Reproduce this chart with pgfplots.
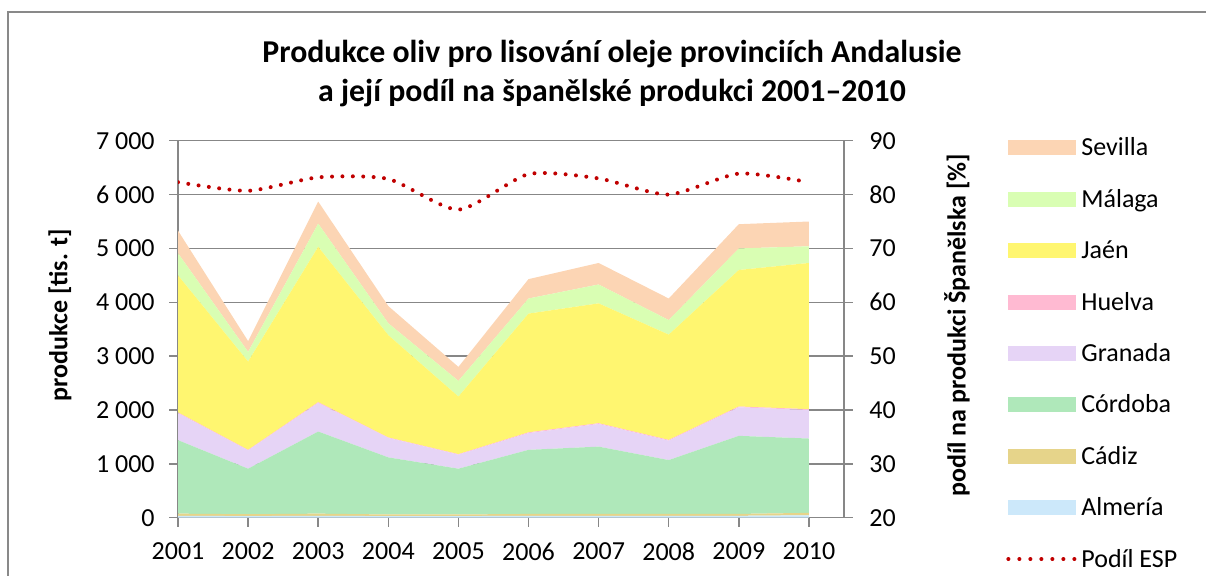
\documentclass[border=0pt]{standalone}
\usepackage{fontspec}
\setmainfont{Carlito}
\usepackage{pgfplots}
\pgfplotsset{compat=1.18}
\definecolor{sevilla}{HTML}{FCD5B4}
\definecolor{malaga}{HTML}{D9FEB3}
\definecolor{jaen}{HTML}{FFF670}
\definecolor{huelva}{HTML}{FFBAD2}
\definecolor{granada}{HTML}{E6D4F6}
\definecolor{cordoba}{HTML}{AFE8BA}
\definecolor{cadiz}{HTML}{E6D48A}
\definecolor{almeria}{HTML}{CCE8FA}
\definecolor{espred}{HTML}{C00000}
\definecolor{axisgray}{HTML}{878787}
\definecolor{bordergray}{HTML}{898989}
\begin{document}
\begin{tikzpicture}[x=1pt,y=1pt]
\path[use as bounding box] (0,0) rectangle (603,287.5);
\begin{scope}
\clip (0,0) rectangle (603,287.5);
\draw[color=bordergray, line width=0.6pt] (4,-20) rectangle (640,281.5);
\end{scope}
\node[anchor=base, font=\fontsize{15.9}{18}\selectfont\bfseries] at (306,256.5) {Produkce oliv pro lisování oleje provinciích Andalusie};
\node[anchor=base, font=\fontsize{15.9}{18}\selectfont\bfseries] at (306,237) {a její podíl na španělské produkci 2001–2010};
\node[rotate=90, font=\fontsize{13}{15}\selectfont\bfseries] at (30,130) {produkce [tis. t]};
\node[rotate=90, font=\fontsize{13}{15}\selectfont\bfseries] at (478.5,124.75) {podíl na produkci Španělska [\%]};
\begin{axis}[
  at={(89pt,28.65pt)}, anchor=south west, scale only axis,
  width=333pt, height=188.5pt,
  xmin=2001, xmax=2010.5, ymin=0, ymax=7000,
  stack plots=y,
  axis x line*=bottom, axis y line*=left,
  axis line style={-, draw=axisgray, line width=0.75pt},
  xtick={2001,2002,2003,2004,2005,2006,2007,2008,2009,2010},
  xticklabels={2001,2002,2003,2004,2005,2006,2007,2008,2009,2010},
  ytick={0,1000,2000,3000,4000,5000,6000,7000},
  ymajorgrids, grid style={axisgray, line width=0.75pt},
  tick align=outside, major tick length=4.5pt,
  tick style={axisgray, line width=0.75pt},
  ticklabel style={font=\fontsize{13}{15}\selectfont},
  /pgf/number format/assume math mode=true,
  /pgf/number format/fixed,
  /pgf/number format/1000 sep={\ },
  scaled y ticks=false,
  yticklabel style={anchor=east, inner sep=0pt, xshift=-7pt},
  xticklabel style={anchor=north, inner sep=0pt, yshift=-8pt},
]
\addplot[fill=almeria, draw=none] coordinates {(2001,35) (2002,30) (2003,35) (2004,30) (2005,30) (2006,35) (2007,35) (2008,35) (2009,35) (2010,45)} \closedcycle;
\addplot[fill=cadiz, draw=none] coordinates {(2001,40) (2002,35) (2003,40) (2004,30) (2005,30) (2006,35) (2007,35) (2008,35) (2009,35) (2010,45)} \closedcycle;
\addplot[fill=cordoba, draw=none] coordinates {(2001,1365) (2002,845) (2003,1525) (2004,1060) (2005,850) (2006,1190) (2007,1250) (2008,1000) (2009,1450) (2010,1380)} \closedcycle;
\addplot[fill=granada, draw=none] coordinates {(2001,500) (2002,340) (2003,530) (2004,360) (2005,260) (2006,310) (2007,420) (2008,360) (2009,530) (2010,530)} \closedcycle;
\addplot[fill=huelva, draw=none] coordinates {(2001,15) (2002,10) (2003,15) (2004,10) (2005,10) (2006,15) (2007,15) (2008,15) (2009,15) (2010,15)} \closedcycle;
\addplot[fill=jaen, draw=none] coordinates {(2001,2545) (2002,1640) (2003,2885) (2004,1900) (2005,1070) (2006,2205) (2007,2225) (2008,1955) (2009,2535) (2010,2715)} \closedcycle;
\addplot[fill=malaga, draw=none] coordinates {(2001,410) (2002,180) (2003,430) (2004,220) (2005,290) (2006,280) (2007,350) (2008,270) (2009,400) (2010,310)} \closedcycle;
\addplot[fill=sevilla, draw=none] coordinates {(2001,420) (2002,200) (2003,410) (2004,320) (2005,260) (2006,360) (2007,400) (2008,400) (2009,450) (2010,460)} \closedcycle;
\end{axis}
\begin{axis}[
  at={(89pt,28.65pt)}, anchor=south west, scale only axis,
  width=333pt, height=188.5pt,
  xmin=2001, xmax=2010.5, ymin=20, ymax=90,
  axis x line=none, axis y line*=right,
  axis line style={-, draw=axisgray, line width=0.75pt},
  ytick={20,30,40,50,60,70,80,90},
  tick align=outside, major tick length=4.5pt,
  tick style={axisgray, line width=0.75pt},
  ticklabel style={font=\fontsize{13}{15}\selectfont},
  /pgf/number format/assume math mode=true,
  yticklabel style={anchor=west, inner sep=0pt, xshift=8pt},
  legend cell align=left,
  legend style={at={(1.2342,1.0194)}, anchor=north west, draw=none, fill=none,
    font=\fontsize{13}{15}\selectfont, row sep=13.7pt,
    nodes={inner sep=0pt, text height=9pt, text depth=3pt}},
]
\addlegendimage{legend image code/.code={\fill[sevilla] (0pt,-2.5pt) rectangle (33.5pt,4.5pt); \path[draw=none,fill=none] (0pt,0pt) -- (36.5pt,0pt);}}
\addlegendentry{Sevilla}
\addlegendimage{legend image code/.code={\fill[malaga] (0pt,-2.5pt) rectangle (33.5pt,4.5pt); \path[draw=none,fill=none] (0pt,0pt) -- (36.5pt,0pt);}}
\addlegendentry{Málaga}
\addlegendimage{legend image code/.code={\fill[jaen] (0pt,-2.5pt) rectangle (33.5pt,4.5pt); \path[draw=none,fill=none] (0pt,0pt) -- (36.5pt,0pt);}}
\addlegendentry{Jaén}
\addlegendimage{legend image code/.code={\fill[huelva] (0pt,-2.5pt) rectangle (33.5pt,4.5pt); \path[draw=none,fill=none] (0pt,0pt) -- (36.5pt,0pt);}}
\addlegendentry{Huelva}
\addlegendimage{legend image code/.code={\fill[granada] (0pt,-2.5pt) rectangle (33.5pt,4.5pt); \path[draw=none,fill=none] (0pt,0pt) -- (36.5pt,0pt);}}
\addlegendentry{Granada}
\addlegendimage{legend image code/.code={\fill[cordoba] (0pt,-2.5pt) rectangle (33.5pt,4.5pt); \path[draw=none,fill=none] (0pt,0pt) -- (36.5pt,0pt);}}
\addlegendentry{Córdoba}
\addlegendimage{legend image code/.code={\fill[cadiz] (0pt,-2.5pt) rectangle (33.5pt,4.5pt); \path[draw=none,fill=none] (0pt,0pt) -- (36.5pt,0pt);}}
\addlegendentry{Cádiz}
\addlegendimage{legend image code/.code={\fill[almeria] (0pt,-2.5pt) rectangle (33.5pt,4.5pt); \path[draw=none,fill=none] (0pt,0pt) -- (36.5pt,0pt);}}
\addlegendentry{Almería}
\addplot[smooth, tension=0.4, color=espred, line width=2pt, dash pattern=on 0pt off 5.2pt, line cap=round,
  legend image code/.code={\draw[espred, line width=2pt, dash pattern=on 0pt off 5.5pt, line cap=round] (0pt,1pt) -- (33.5pt,1pt); \path[draw=none,fill=none] (0pt,0pt) -- (36.5pt,0pt);}]
  coordinates {(2001,82.3) (2002,80.7) (2003,83.2) (2004,82.9) (2005,77.2) (2006,83.8) (2007,83.0) (2008,80.0) (2009,83.9) (2010,82.3)};
\addlegendentry{Podíl ESP}
\end{axis}
\end{tikzpicture}
\end{document}
